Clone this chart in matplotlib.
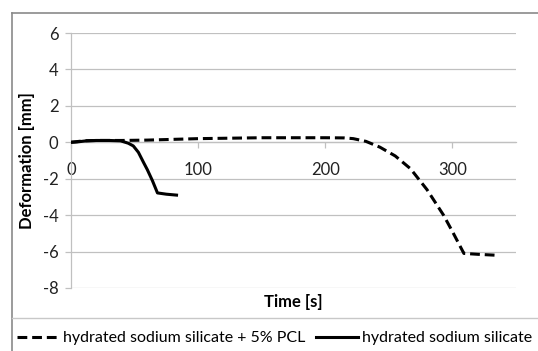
import matplotlib
matplotlib.use("Agg")
import matplotlib.pyplot as plt
from matplotlib.lines import Line2D

plt.rcParams['font.family'] = ['Lato', 'DejaVu Sans']
plt.rcParams['axes.unicode_minus'] = False

# hydrated sodium silicate + 5% PCL
t_pcl = [0, 10, 20, 40, 60, 100, 150, 200, 215, 222, 232, 243, 255, 267, 280, 293, 300, 309, 320, 334]
d_pcl = [0, 0.08, 0.1, 0.1, 0.12, 0.2, 0.25, 0.25, 0.24, 0.2, 0.05, -0.27, -0.75, -1.45, -2.6, -4.0, -4.9, -6.1, -6.15, -6.2]

# hydrated sodium silicate
t_hs = [0, 5, 12, 20, 30, 39, 45, 49, 53, 57, 60, 64, 68, 75, 83]
d_hs = [0, 0.02, 0.08, 0.1, 0.1, 0.08, -0.05, -0.2, -0.55, -1.1, -1.5, -2.1, -2.78, -2.85, -2.9]

yticks = [-8, -6, -4, -2, 0, 2, 4, 6]
xticks = [0, 100, 200, 300]

fig = plt.figure(figsize=(5.38, 3.51), dpi=100)
ax = fig.add_axes([71/538, 1-288/351, (516-71)/538, (288-33)/351])

grid_c = '#c0c0c0'
for y in yticks:
    ax.axhline(y, color=grid_c, lw=0.9, zorder=0)

ax.plot(t_pcl, d_pcl, color='black', lw=2.2, dashes=(3.2, 1.6),
        label='hydrated sodium silicate + 5% PCL', zorder=3)
ax.plot(t_hs, d_hs, color='black', lw=2.2,
        label='hydrated sodium silicate', zorder=3)

ax.set_xlim(0, 350)
ax.set_ylim(-8, 6)
ax.set_xticks(xticks)
ax.set_yticks(yticks)

for s in ['top', 'right']:
    ax.spines[s].set_visible(False)
ax.spines['bottom'].set_position(('data', 0))
ax.spines['bottom'].set_color(grid_c)
ax.spines['left'].set_color(grid_c)
ax.spines['left'].set_linewidth(0.9)
ax.spines['bottom'].set_linewidth(0.9)
ax.tick_params(axis='both', colors=grid_c, labelcolor='#222222',
               labelsize=12, length=4, width=0.9)
ax.tick_params(axis='x', pad=10)
ax.tick_params(axis='y', pad=5)

ax.set_xlabel('Time [s]', fontsize=12, fontweight='bold')
ax.xaxis.set_label_coords(0.5, (288-302)/255)
ax.set_ylabel('Deformation [mm]', fontsize=12, fontweight='bold')
ax.yaxis.set_label_coords((27-71)/445, 0.5)
ax.xaxis.label.set_va('center')
ax.yaxis.label.set_va('center')

# chart area border and legend box
bc = '#8a8a8a'
fig.add_artist(Line2D([12/538, 1], [1-13/351, 1-13/351], color=bc, lw=1.2))
fig.add_artist(Line2D([12/538, 12/538], [0, 1-13/351], color=bc, lw=1.2))
fig.add_artist(Line2D([12/538, 1], [1-318/351, 1-318/351], color='#c8c8c8', lw=1.0))

fig.legend(loc='center left', bbox_to_anchor=(17/538, 1-338/351), ncol=2,
           frameon=False, fontsize=11.5, handlelength=2.6, handletextpad=0.25,
           columnspacing=0.7, borderaxespad=0, borderpad=0)

fig.savefig('out.png', dpi=100)
